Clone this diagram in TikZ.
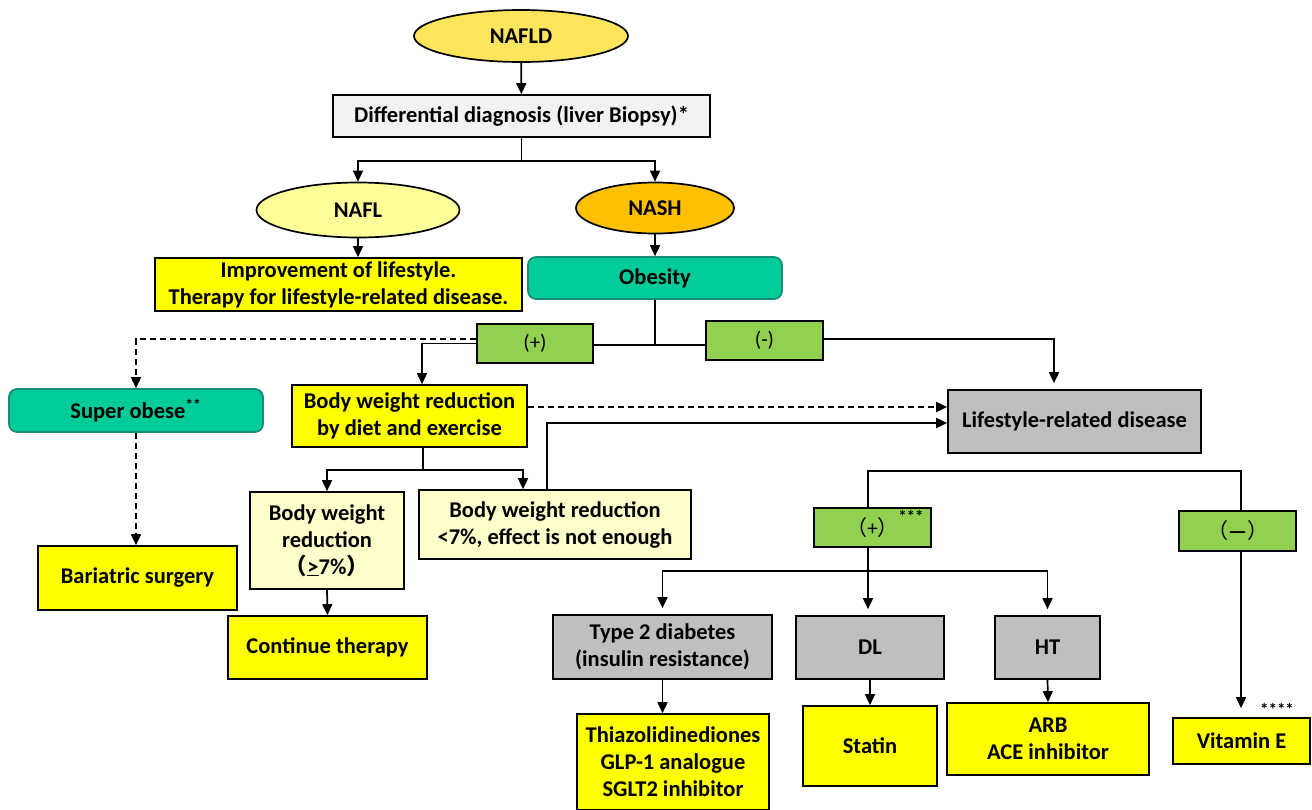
\documentclass[tikz,border=0pt]{standalone}
\usepackage{fontspec}
\setmainfont{Carlito}
\newfontfamily\cjk{Noto Sans CJK SC}
\usetikzlibrary{arrows.meta,shapes.geometric}
\definecolor{cNAFLD}{HTML}{FFE55C}
\definecolor{cNAFL}{HTML}{FFFF99}
\definecolor{cNASH}{HTML}{FFC000}
\definecolor{cDiff}{HTML}{F2F2F2}
\definecolor{cYel}{HTML}{FFFF00}
\definecolor{cTeal}{HTML}{00CC99}
\definecolor{cTealB}{HTML}{1A8C72}
\definecolor{cGreen}{HTML}{92D050}
\definecolor{cGrey}{HTML}{BFBFBF}
\definecolor{cPale}{HTML}{FFFFCC}
\tikzset{
  base/.style={draw=black, line width=1.7pt, inner sep=0pt, align=center, text=black,
    font=\bfseries\fontsize{22.5}{27}\selectfont},
  box/.style 2 args={base, rectangle, minimum width=#1, minimum height=#2},
  ell/.style 2 args={base, ellipse, minimum width=#1, minimum height=#2},
  rbox/.style 2 args={box={#1}{#2}, rounded corners=8pt, draw=cTealB, fill=cTeal},
  gbox/.style 2 args={box={#1}{#2}, fill=cGreen, font=\fontsize{21}{24}\selectfont},
  conn/.style={line width=1.7pt, draw=black},
  arr/.style={conn, -{Triangle[length=11pt,width=10pt]}},
  dsh/.style={dash pattern=on 6pt off 4pt},
  note/.style={inner sep=0pt, font=\bfseries\fontsize{17}{19}\selectfont}
}
\begin{document}
\begin{tikzpicture}[x=1pt,y=-1pt]
\useasboundingbox (0,0) rectangle (1312,809);
% nodes
\node[ell={214pt}{52pt}, fill=cNAFLD] (nafld) at (521,36) {NAFLD};
\node[box={377pt}{42pt}, fill=cDiff] (diff) at (521.5,116) {Differential diagnosis (liver Biopsy)*};
\node[ell={203pt}{55pt}, fill=cNAFL] (nafl) at (358,210) {NAFL};
\node[ell={158pt}{51pt}, fill=cNASH] (nash) at (655,208) {NASH};
\node[box={367pt}{53pt}, fill=cYel] (impr) at (338.5,284.5) {Improvement of lifestyle.\\Therapy for lifestyle-related disease.};
\node[rbox={254pt}{42pt}] (obes) at (655,278) {Obesity};
\node[gbox={116pt}{39pt}] (plus) at (535,343.5) {(+)};
\node[gbox={117pt}{39pt}] (minus) at (764.5,340.5) {(-)};
\node[rbox={254pt}{43pt}] (super) at (136,410.5) {Super obese\textsuperscript{**}};
\node[box={235pt}{62pt}, fill=cYel] (bwr) at (409.5,416) {Body weight reduction\\by diet and exercise};
\node[box={253pt}{63pt}, fill=cGrey] (life) at (1074.5,421.5) {Lifestyle-related disease};
\node[box={199pt}{64pt}, fill=cYel] (bari) at (137.5,578) {Bariatric surgery};
\node[box={154pt}{97pt}, fill=cPale] (ge) at (327,540.5) {Body weight\\reduction\\{\cjk （}\underline{>}7\%{\cjk ）}};
\node[box={272pt}{69pt}, fill=cPale] (less) at (555,524.5) {Body weight reduction\\<7\%, effect is not enough};
\node[box={199pt}{63pt}, fill=cYel] (cont) at (327.5,647.5) {Continue therapy};
\node[gbox={117pt}{39pt}] (plus2) at (872.5,527.5) {{\cjk （}+{\cjk ）}};
\node[note, anchor=north east] (st3) at ([xshift=-8pt,yshift=-3pt]plus2.north east) {***};
\node[gbox={117pt}{40pt}] (minus2) at (1237.5,531) {{\cjk （}\textbf{—}{\cjk ）}};
\node[box={219pt}{64pt}, fill=cGrey] (t2) at (662.5,647) {Type 2 diabetes\\(insulin resistance)};
\node[box={148pt}{63pt}, fill=cGrey] (dl) at (870,647.5) {DL};
\node[box={105pt}{63pt}, fill=cGrey] (ht) at (1047.5,647.5) {HT};
\node[box={192pt}{96pt}, fill=cYel] (thia) at (673,762) {Thiazolidinediones\\GLP-1 analogue\\SGLT2 inhibitor};
\node[box={134pt}{80pt}, fill=cYel] (stat) at (870,746) {Statin};
\node[box={202pt}{72pt}, fill=cYel] (arb) at (1048,739) {ARB\\ACE inhibitor};
\node[box={137pt}{46pt}, fill=cYel] (vite) at (1241.5,741) {Vitamin E};
\node[note] (st4) at (1277,709) {****};
% connectors
\draw[arr] (nafld) -- (diff);
\draw[conn] (diff.south) -- ++(0,23) coordinate (d1);
\draw[arr] (d1) -| (nafl.north);
\draw[arr] (d1) -| (nash.north);
\draw[arr] (nafl.south) -- (nafl.south |- impr.north);
\draw[arr] (nash.south) -- (obes.north);
\coordinate (j) at (655,345);
\draw[conn] (obes.south) -- (j);
\draw[conn] (plus.east |- j) -- (minus.west |- j);
\draw[arr] (plus.west) -| ([xshift=12.5pt]bwr.north);
\draw[arr, dsh] ([yshift=4.5pt]plus.west) -| (super.north);
\draw[arr, shorten >=6pt] ([yshift=1.5pt]minus.east) -| ([xshift=-20.5pt]life.north);
\draw[arr, dsh] ([yshift=9pt]bwr.east) -- ([yshift=9pt]bwr.east -| life.west);
\draw[arr] ([xshift=-8pt]less.north) |- ([yshift=-1.5pt]life.west);
\draw[arr, dsh] (super.south) -- (super.south |- bari.north);
\draw[conn] ([xshift=13.5pt]bwr.south) -- ++(0,22) coordinate (b1);
\draw[arr] (b1) -| (ge.north);
\draw[arr] (b1) -| ([xshift=-32pt]less.north);
\draw[arr] (ge.south) -- (cont.north);
\draw[conn] ([xshift=-4.5pt]plus2.north) -- ++(0,-36) -| ([xshift=3.5pt]minus2.north);
\draw[arr, shorten >=9pt] ([xshift=3.5pt]minus2.south) -- ([xshift=3.5pt]minus2.south |- vite.north);
\draw[conn] ([xshift=-4.5pt]plus2.south) -- ++(0,23) coordinate (k);
\draw[arr, shorten >=6pt] (k) -- (k |- dl.north);
\draw[arr, shorten >=6pt] (k) -| (t2.north);
\draw[arr, shorten >=6pt] (k) -| (ht.north);
\draw[arr] (t2.south) -- (t2.south |- thia.north);
\draw[arr] (dl.south) -- (stat.north);
\draw[arr] (ht.south) -- (arb.north);
\end{tikzpicture}
\end{document}
